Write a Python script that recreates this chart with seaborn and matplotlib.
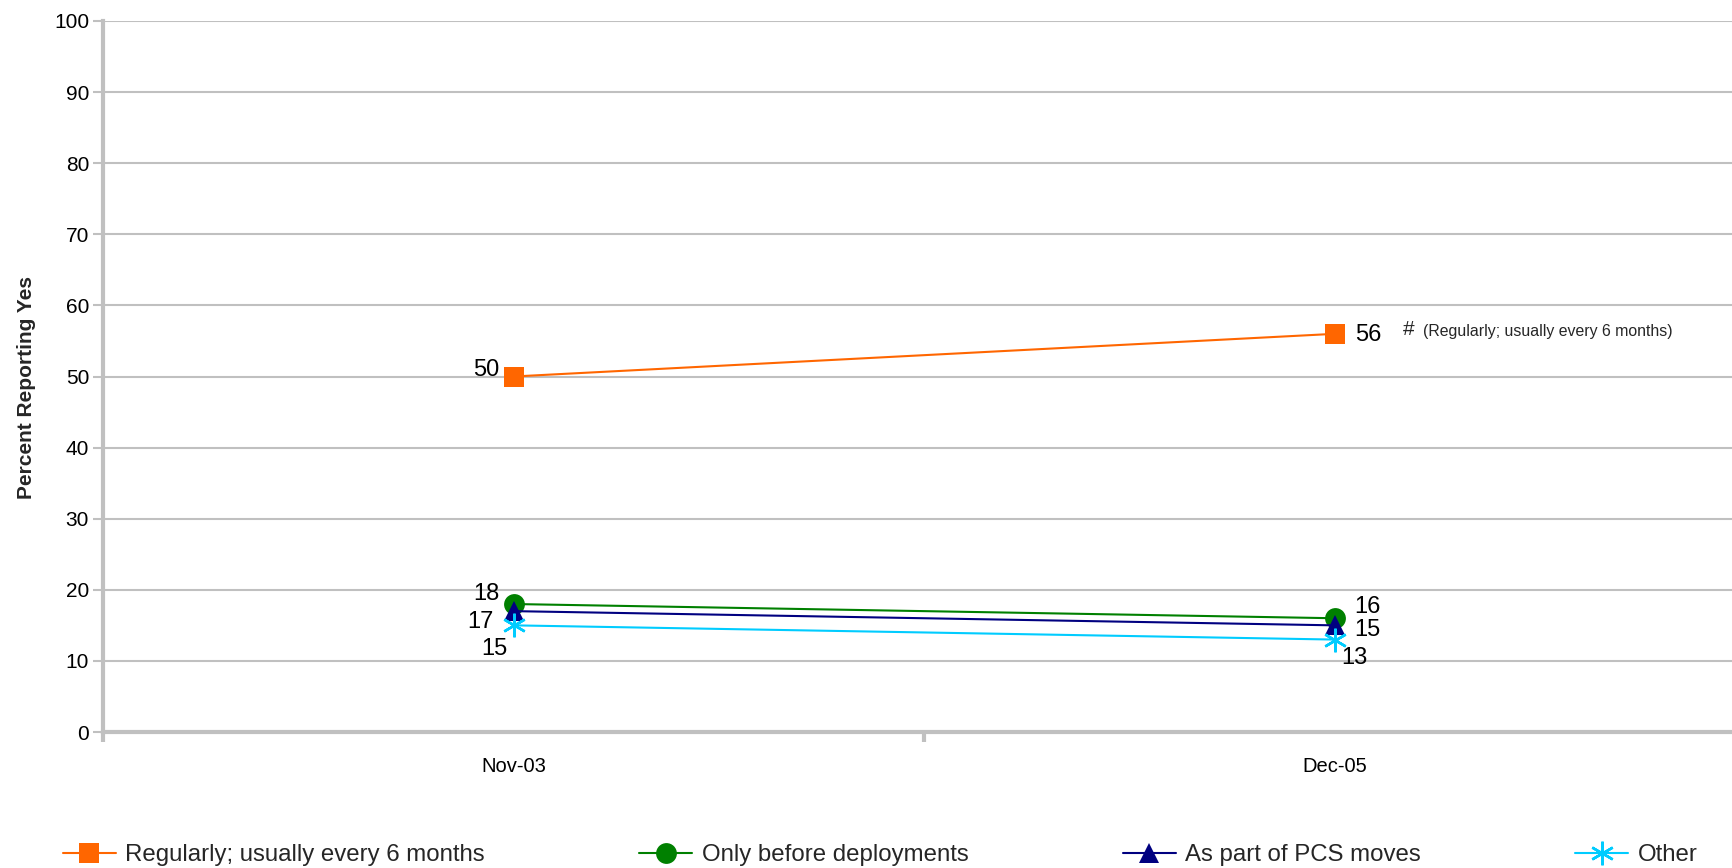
import numpy as np
import pandas as pd
import matplotlib
matplotlib.use('Agg')
import matplotlib.pyplot as plt
import seaborn as sns

sns.set_style('white')
plt.rcParams['font.family'] = ['Liberation Sans', 'DejaVu Sans']

# data
periods = ['Nov-03', 'Dec-05']
series_names = ['Regularly; usually every 6 months', 'Only before deployments',
                'As part of PCS moves', 'Other']
regularly = [50, 56]
before_deploy = [18, 16]
pcs_moves = [17, 15]
other = [15, 13]
values = [regularly, before_deploy, pcs_moves, other]

colors = ['#FF6600', '#008000', '#000080', '#00CCFF']
markers = ['s', 'o', '^', (6, 2, 0)]
msizes = [15, 15, 14, 17]

# label offsets (points) for each series at each period
lbl_off = [[(-10, 5, 'right'), (15, -1, 'left')],
           [(-10, 7, 'right'), (14, 8, 'left')],
           [(-14, -8, 'right'), (14, -3, 'left')],
           [(-4, -17, 'right'), (5, -13, 'left')]]

df = pd.DataFrame({'period': periods * 4,
                   'series': np.repeat(series_names, 2),
                   'value': np.concatenate(values)})

fig = plt.figure(figsize=(17.32, 8.68), dpi=100)
ax = fig.add_axes([103 / 1732, 1 - 732 / 868, (1745 - 103) / 1732, (732 - 21) / 868])

for i, name in enumerate(series_names):
    sub = df[df['series'] == name]
    sns.lineplot(data=sub, x='period', y='value', ax=ax, color=colors[i],
                 marker=markers[i], markersize=msizes[i], markeredgewidth=1.8 if i == 3 else 0,
                 markeredgecolor=colors[i], linewidth=1.5, label=name, legend=False)
    for j, v in enumerate(values[i]):
        dx, dy, ha = lbl_off[i][j]
        ax.annotate(str(v), (j, v), xytext=(dx, dy), textcoords='offset points',
                    ha=ha, va='center', fontsize=17, color='black')

ax.annotate('#', (1, 56), xytext=(49, 3), textcoords='offset points',
            ha='left', va='center', fontsize=15)
ax.annotate('(Regularly; usually every 6 months)', (1, 56), xytext=(64, 2),
            textcoords='offset points', ha='left', va='center', fontsize=11.4)

ax.set_xlim(-0.5, 1.5)
ax.set_ylim(0, 100)
ax.set_yticks(np.arange(0, 101, 10))
ax.set_xticks([0, 1])
ax.set_xticklabels(periods)
ax.set_xticks([-0.5, 0.5, 1.5], minor=True)
ax.tick_params(axis='x', which='major', length=0, pad=18, labelsize=14.5, labelcolor='black')
ax.tick_params(axis='x', which='minor', bottom=True, length=7, width=3,
               color='#C0C0C0', direction='out')
ax.tick_params(axis='y', left=True, length=7, width=1.5, color='#C0C0C0', direction='out',
               labelsize=15, pad=3, labelcolor='black')
ax.set_xlabel('')
ax.set_ylabel('Percent Reporting Yes', fontsize=15, fontweight='bold',
              family=['Liberation Sans Narrow', 'Liberation Sans'])
ax.yaxis.set_label_coords(-0.041, 0.485)
ax.grid(axis='y', color='#C0C0C0', linewidth=1.5)
ax.set_axisbelow(True)
for s in ['top', 'right']:
    ax.spines[s].set_visible(False)
for s in ['left', 'bottom']:
    ax.spines[s].set_color('#C0C0C0')
    ax.spines[s].set_linewidth(3)

handles, labels = ax.get_legend_handles_labels()
fig.legend(handles, labels, loc='center left', bbox_to_anchor=(63 / 1732, 1 - 855 / 868),
           ncol=4, frameon=False, fontsize=17.3, handlelength=2.2, handletextpad=0.4,
           columnspacing=6.42, borderaxespad=0, borderpad=0)

fig.savefig('out.png', dpi=100)
